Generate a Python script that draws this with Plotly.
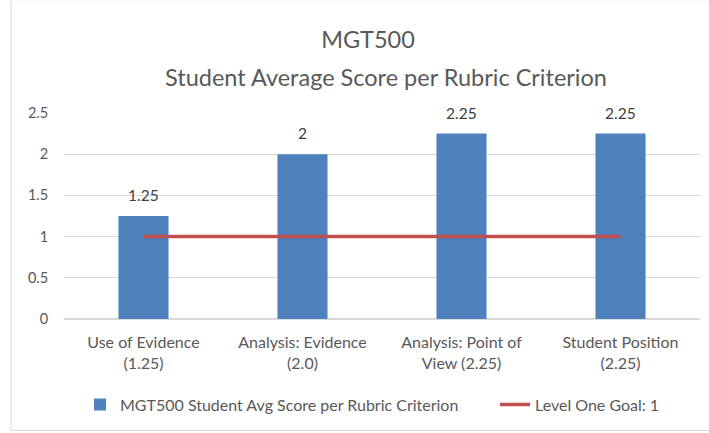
import plotly.graph_objects as go

categories = ["Use of Evidence<br>(1.25)", "Analysis: Evidence<br>(2.0)",
              "Analysis: Point of<br>View (2.25)", "Student Position<br>(2.25)"]
avg_scores = [1.25, 2, 2.25, 2.25]
goal_values = [1, 1, 1, 1]
score_labels = ["1.25", "2", "2.25", "2.25"]
bar_name = "MGT500 Student Avg Score per Rubric Criterion"
line_name = "Level One Goal: 1"
title_line1 = "MGT500"
title_line2 = "Student Average Score per Rubric Criterion"

FONT = "Lato, 'Open Sans', sans-serif"
PLOT_LEFT, PLOT_W = 64, 636
PLOT_BOTTOM, PLOT_H = 319.5, 206


def px_(pixel_x):
    return (pixel_x - PLOT_LEFT) / PLOT_W


def py(pixel_y):
    return (PLOT_BOTTOM - pixel_y) / PLOT_H


fig = go.Figure()
fig.add_trace(go.Bar(
    x=categories, y=avg_scores, name=bar_name, legend="legend",
    marker=dict(color="#4F81BD", line=dict(width=0)),
))
fig.add_trace(go.Scatter(
    x=categories, y=goal_values, name=line_name, mode="lines", legend="legend2",
    line=dict(color="#C0504D", width=3.5),
))

annotations = [
    dict(x=c, y=v, xref="x", yref="y", text=t, showarrow=False,
         yanchor="bottom", yshift=10,
         font=dict(size=15.5, color="#404040", family=FONT))
    for c, v, t in zip(categories, avg_scores, score_labels)
]
annotations.append(dict(
    x=px_(386), y=py(77), xref="paper", yref="paper",
    text=title_line2, showarrow=False, xanchor="center", yanchor="middle",
    font=dict(size=23.5, color="#595959", family=FONT)))

legend_common = dict(orientation="h", xanchor="left", y=py(405), yanchor="middle",
                     font=dict(size=16, color="#595959"), itemwidth=30,
                     bgcolor="rgba(0,0,0,0)")

fig.update_layout(
    width=709, height=433,
    paper_bgcolor="white", plot_bgcolor="white",
    margin=dict(l=64, r=9, t=113, b=113.5, autoexpand=False),
    bargap=0.685,
    font=dict(family=FONT, size=14, color="#595959"),
    title=dict(text=title_line1, x=368/709, xanchor="center", y=1 - 40/433, yanchor="middle",
               font=dict(size=23.5, color="#595959", family=FONT)),
    xaxis=dict(type="category", range=[-0.5, 3.5], showgrid=False, showline=False,
               ticks="", ticklabelstandoff=12, tickfont=dict(size=16, color="#595959")),
    yaxis=dict(range=[0, 2.5], dtick=0.5, showgrid=True, gridcolor="#D9D9D9",
               gridwidth=1, zeroline=True, zerolinecolor="#D9D9D9", showline=False,
               ticks="", ticksuffix="    ", tickfont=dict(size=14.5, color="#595959")),
    legend=dict(x=px_(80), **legend_common),
    legend2=dict(x=px_(495), **legend_common),
    showlegend=True,
    annotations=annotations,
    shapes=[dict(type="rect", xref="paper", yref="paper",
                 x0=-0.0833, x1=1.03, y0=-0.541, y1=1.55,
                 line=dict(color="#D9D9D9", width=1), fillcolor="rgba(0,0,0,0)")],
)

fig.write_html("out.html", config={"displayModeBar": False},
               post_script="document.body.style.margin='0';")
